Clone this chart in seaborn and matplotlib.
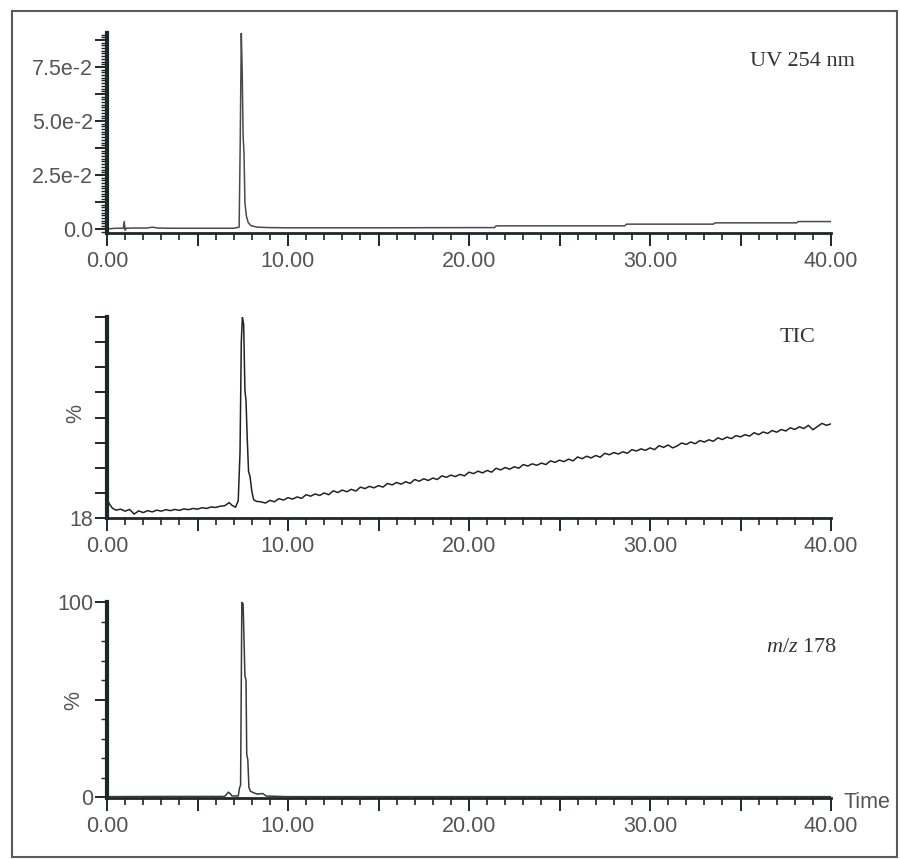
import numpy as np
import pandas as pd
import matplotlib
matplotlib.use("Agg")
import matplotlib.pyplot as plt
from matplotlib.ticker import MultipleLocator, FixedLocator, FuncFormatter
from matplotlib.patches import Rectangle
import seaborn as sns

# ---------------- data ----------------
uv_time = [0.0, 0.5, 0.9, 0.95, 1.0, 1.05, 1.5, 2.2, 2.5, 2.8, 3.5, 5.0, 6.5, 7.0, 7.3,
           7.36, 7.42, 7.47, 7.52, 7.57, 7.62, 7.7, 7.8, 7.95, 8.3, 9.0, 10.0, 15.0, 20.0,
           21.4, 21.5, 28.6, 28.7, 33.5, 33.6, 38.1, 38.2, 40.0]
uv_abs = [0.0, 0.0003, 0.0003, 0.0034, -0.0006, 0.0003, 0.0004, 0.0004, 0.0008, 0.0004,
          0.0003, 0.0003, 0.0003, 0.0003, 0.0008,
          0.040, 0.0907, 0.073, 0.043, 0.035, 0.012, 0.006, 0.003, 0.0015, 0.0008, 0.0006,
          0.0005, 0.0005, 0.0006,
          0.0006, 0.0014, 0.0014, 0.0022, 0.0022, 0.0028, 0.0028, 0.0034, 0.0034]

tic_time = [0.0, 0.05, 0.15, 0.3, 0.5, 0.75, 1.0, 1.25, 1.5, 1.75, 2.0, 2.25, 2.5, 2.75,
            3.0, 3.25, 3.5, 3.75, 4.0, 4.25, 4.5, 4.75, 5.0, 5.25, 5.5, 5.75, 6.0, 6.25,
            6.5, 6.75, 6.9, 7.1, 7.25, 7.35, 7.42, 7.48, 7.55, 7.62, 7.68, 7.75, 7.82,
            7.9, 8.0, 8.1, 8.25,
            8.5, 8.75, 9.0, 9.25, 9.5, 9.75, 10.0, 10.25, 10.5, 10.75, 11.0, 11.25, 11.5,
            11.75, 12.0, 12.25, 12.5, 12.75, 13.0, 13.25, 13.5, 13.75, 14.0, 14.25, 14.5,
            14.75, 15.0, 15.25, 15.5, 15.75, 16.0, 16.25, 16.5, 16.75, 17.0, 17.25, 17.5,
            17.75, 18.0, 18.25, 18.5, 18.75, 19.0, 19.25, 19.5, 19.75, 20.0, 20.25, 20.5,
            20.75, 21.0, 21.25, 21.5, 21.75, 22.0, 22.25, 22.5, 22.75, 23.0, 23.25, 23.5,
            23.75, 24.0, 24.25, 24.5, 24.75, 25.0, 25.25, 25.5, 25.75, 26.0, 26.25, 26.5,
            26.75, 27.0, 27.25, 27.5, 27.75, 28.0, 28.25, 28.5, 28.75, 29.0, 29.25, 29.5,
            29.75, 30.0, 30.25, 30.5, 30.75, 31.0, 31.25, 31.5, 31.75, 32.0, 32.25, 32.5,
            32.75, 33.0, 33.25, 33.5, 33.75, 34.0, 34.25, 34.5, 34.75, 35.0, 35.25, 35.5,
            35.75, 36.0, 36.25, 36.5, 36.75, 37.0, 37.25, 37.5, 37.75, 38.0, 38.25, 38.5,
            38.75, 39.0, 39.25, 39.5, 39.75, 40.0]
tic_pct = [18.5, 25.0, 23.5, 22.0, 21.2, 21.6, 20.8, 21.5, 19.6, 20.9, 20.2, 21.0, 20.5,
           21.2, 20.8, 21.4, 21.0, 21.5, 21.1, 21.7, 21.4, 21.9, 21.6, 22.2, 21.9, 22.5,
           22.3, 22.8, 23.0, 24.3, 23.2, 22.4, 25.0, 45.0, 90.0, 100.0, 97.0, 70.0, 66.0,
           50.0, 37.0, 35.0, 29.0, 25.5, 24.8,
           24.6, 24.1, 25.2, 24.6, 25.9, 25.3, 26.3, 25.7, 26.6, 26.0, 27.5, 26.9, 27.8,
           27.2, 28.2, 27.5, 29.1, 28.4, 29.4, 28.7, 29.7, 29.0, 30.6, 30.0, 30.9, 30.3,
           31.2, 30.6, 32.1, 31.5, 32.5, 31.8, 32.8, 32.1, 33.7, 33.0, 34.0, 33.3, 34.3,
           33.7, 35.2, 34.6, 35.5, 34.9, 35.8, 35.2, 36.7, 36.1, 37.1, 36.4, 37.4, 36.7,
           38.3, 37.6, 38.6, 37.9, 38.9, 38.3, 39.8, 39.2, 40.1, 39.5, 40.4, 39.8, 41.3,
           40.7, 41.6, 41.0, 42.0, 41.3, 42.9, 42.2, 43.2, 42.5, 43.5, 42.8, 44.4, 43.8,
           44.7, 44.1, 45.0, 44.4, 45.9, 45.3, 46.2, 45.6, 46.6, 45.9, 47.5, 46.8, 47.8,
           46.6, 47.4, 48.6, 48.0, 49.0, 48.3, 49.6, 49.0, 49.9, 49.3, 50.7, 50.0, 51.0,
           50.4, 51.6, 51.1, 52.0, 51.4, 52.8, 52.0, 53.1, 52.5, 53.7, 53.0, 54.1, 53.5,
           54.8, 54.1, 55.2, 54.5, 55.8, 54.0, 55.3, 56.6, 55.8, 56.4]

mz_time = [0.0, 3.0, 6.5, 6.62, 6.7, 6.8, 6.9, 7.25, 7.33, 7.38, 7.45, 7.52, 7.62, 7.68,
           7.72, 7.78, 7.84, 7.92, 8.1, 8.3, 8.6, 8.8, 10.0, 40.0]
mz_pct = [0.2, 0.3, 0.3, 1.5, 2.5, 1.8, 0.6, 0.5, 5.0, 6.0, 100.0, 99.0, 62.0, 60.0,
          22.0, 19.0, 5.0, 3.0, 2.2, 1.5, 1.8, 0.5, 0.2, 0.2]

x_major_labels = ["0.00", "10.00", "20.00", "30.00", "40.00"]
uv_label_values = [0.0, 0.025, 0.05, 0.075]
uv_label_texts = ["0.0", "2.5e-2", "5.0e-2", "7.5e-2"]

# ---------------- style ----------------
sns.set_theme(style="ticks")
plt.rcParams["font.family"] = ["Liberation Sans", "DejaVu Sans"]
plt.rcParams["mathtext.fontset"] = "custom"
plt.rcParams["mathtext.rm"] = "Liberation Serif"
plt.rcParams["mathtext.it"] = "Liberation Serif:italic"

W, H = 900, 859
fig = plt.figure(figsize=(W / 100, H / 100), dpi=100)
fig.patch.set_facecolor("white")

AX_COL = "#1c2828"
LBL_COL = "#555555"
TICK_FS = 15.5


def fpos(x0, y_top, x1, y_bot):
    return [x0 / W, 1 - y_bot / H, (x1 - x0) / W, (y_bot - y_top) / H]


ax1 = fig.add_axes(fpos(107, 33, 831, 233))
ax2 = fig.add_axes(fpos(107, 317, 831, 518))
ax3 = fig.add_axes(fpos(107, 602, 831, 798))

df_uv = pd.DataFrame({"t": uv_time, "v": uv_abs})
df_tic = pd.DataFrame({"t": tic_time, "v": tic_pct})
df_mz = pd.DataFrame({"t": mz_time, "v": mz_pct})

sns.lineplot(data=df_uv, x="t", y="v", ax=ax1, color="#4a4a4a", lw=1.1, estimator=None)
sns.lineplot(data=df_tic, x="t", y="v", ax=ax2, color="#222222", lw=1.1, estimator=None)
sns.lineplot(data=df_mz, x="t", y="v", ax=ax3, color="#3a3a3a", lw=1.1, estimator=None)


def xfmt(v, pos):
    iv = int(round(v))
    if iv % 10 == 0:
        return x_major_labels[iv // 10]
    return ""


for ax in (ax1, ax2, ax3):
    ax.set_facecolor("white")
    ax.set_xlim(0, 40)
    ax.set_xlabel("")
    ax.set_ylabel("")
    for s in ("top", "right"):
        ax.spines[s].set_visible(False)
    ax.spines["left"].set_linewidth(3.0)
    ax.spines["left"].set_color(AX_COL)
    ax.spines["bottom"].set_linewidth(2.0)
    ax.spines["bottom"].set_color(AX_COL)
    ax.xaxis.set_major_locator(MultipleLocator(5))
    ax.xaxis.set_minor_locator(MultipleLocator(1))
    ax.xaxis.set_major_formatter(FuncFormatter(xfmt))
    ax.tick_params(axis="x", which="major", length=9, width=1.4, color=AX_COL,
                   labelsize=TICK_FS, labelcolor=LBL_COL, pad=4)
    ax.tick_params(axis="x", which="minor", length=5, width=1.2, color=AX_COL)
    ax.tick_params(axis="y", which="major", length=9, width=1.4, color=AX_COL,
                   labelsize=TICK_FS, labelcolor=LBL_COL, pad=1)
    ax.tick_params(axis="y", which="minor", length=4, width=1.0, color=AX_COL)

# panel 1 (UV)
ax1.set_ylim(-0.0019, 0.0907)
ax1.yaxis.set_major_locator(MultipleLocator(0.0125))
ax1.yaxis.set_minor_locator(MultipleLocator(0.00125))
ax1.yaxis.set_major_formatter(FuncFormatter(
    lambda v, p: uv_label_texts[uv_label_values.index(round(v, 4))]
    if round(v, 4) in uv_label_values else ""))

# panel 2 (TIC)
ax2.set_ylim(18, 100)
ax2.yaxis.set_major_locator(FixedLocator(list(np.linspace(18, 100, 9))))
ax2.yaxis.set_minor_locator(FixedLocator([]))
ax2.yaxis.set_major_formatter(FuncFormatter(lambda v, p: "18" if abs(v - 18) < 1e-6 else ""))
ax2.set_ylabel("%", fontsize=TICK_FS, color=LBL_COL)
ax2.yaxis.set_label_coords(-0.028, 0.52)

# panel 3 (m/z 178)
ax3.set_ylim(-0.5, 100)
ax3.yaxis.set_major_locator(MultipleLocator(50))
ax3.yaxis.set_minor_locator(MultipleLocator(10))
ax3.yaxis.set_major_formatter(FuncFormatter(
    lambda v, p: {0: "0", 100: "100"}.get(int(round(v)), "")))
ax3.set_ylabel("%", fontsize=TICK_FS, color=LBL_COL)
ax3.yaxis.set_label_coords(-0.031, 0.5)

# annotations
SER = ["Liberation Serif", "DejaVu Serif"]
fig.text(802 / W, 1 - 62 / H, "UV 254 nm", family=SER, fontsize=16, color="#333333",
         ha="center", va="center")
fig.text(797 / W, 1 - 337 / H, "TIC", family=SER, fontsize=16, color="#333333",
         ha="center", va="center")
fig.text(802 / W, 1 - 648 / H, r"$m/z$ 178", family=SER, fontsize=16, color="#333333",
         ha="center", va="center")
fig.text(843 / W, 1 - 802 / H, "Time", fontsize=TICK_FS, color=LBL_COL,
         ha="left", va="center")

# outer frame
fig.add_artist(Rectangle((12 / W, 1 - 857 / H), (897 - 12) / W, (857 - 11) / H,
                         transform=fig.transFigure, fill=False, ec="#5a5a5a", lw=1.5))

fig.savefig("out.png", dpi=100, facecolor="white")
